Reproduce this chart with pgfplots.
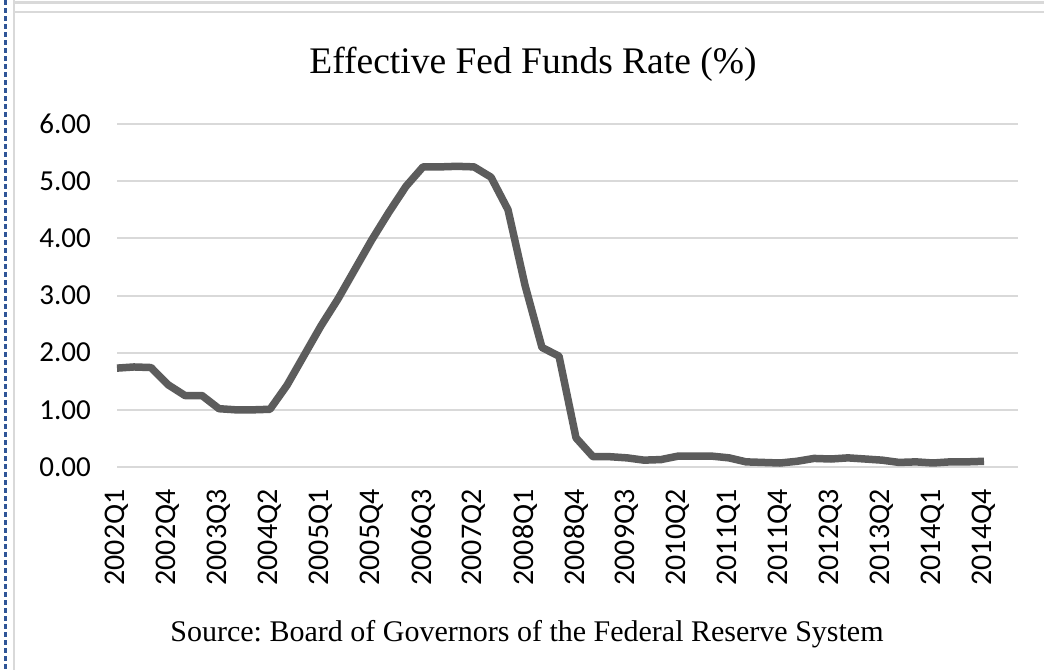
\documentclass[border=0pt]{standalone}
\usepackage{fontspec}
\setmainfont{Carlito}
\newfontfamily\timesfont{Liberation Serif}
\usepackage{pgfplots}
\usepackage{pgfplotstable}
\pgfplotsset{compat=1.18}
\definecolor{lineg}{RGB}{92,92,92}
\definecolor{gridg}{RGB}{217,217,217}
\definecolor{dashblue}{RGB}{47,85,151}
\pgfplotstableread{
i v
0 1.73
1 1.75
2 1.74
3 1.44
4 1.25
5 1.25
6 1.02
7 1.00
8 1.00
9 1.01
10 1.43
11 1.95
12 2.47
13 2.94
14 3.46
15 3.98
16 4.46
17 4.91
18 5.25
19 5.25
20 5.26
21 5.25
22 5.07
23 4.50
24 3.18
25 2.09
26 1.94
27 0.51
28 0.18
29 0.18
30 0.16
31 0.12
32 0.13
33 0.19
34 0.19
35 0.19
36 0.16
37 0.09
38 0.08
39 0.07
40 0.10
41 0.15
42 0.14
43 0.16
44 0.14
45 0.12
46 0.08
47 0.09
48 0.07
49 0.09
50 0.09
51 0.10
}\fedtable
\frenchspacing
\begin{document}
\begin{tikzpicture}[x=1pt,y=1pt]
\useasboundingbox (0,0) rectangle (1044,-670);
\fill[white] (0,0) rectangle (1044,-670);
\draw[dashblue, line width=2.5pt, dash pattern=on 5pt off 3pt] (5.5,0) -- (5.5,-670);
\draw[gridg, line width=2.5pt] (14,0) -- (14,-670);
\draw[gridg, line width=2.5pt] (14,-2.5) -- (1044,-2.5);
\draw[gridg, line width=2.5pt] (14,-12) -- (1044,-12);
\begin{axis}[
  at={(117pt,-467pt)}, anchor=south west,
  scale only axis, width=901pt, height=343pt,
  xmin=0, xmax=53, ymin=0, ymax=6,
  axis line style={draw=none},
  major tick length=0pt,
  ytick={0,1,...,6},
  ymajorgrids, grid style={gridg, line width=2pt},
  xtick={0,3,...,51},
  xticklabels={2002Q1,2002Q4,2003Q3,2004Q2,2005Q1,2005Q4,2006Q3,2007Q2,2008Q1,2008Q4,2009Q3,2010Q2,2011Q1,2011Q4,2012Q3,2013Q2,2014Q1,2014Q4},
  xticklabel style={rotate=90, anchor=east, inner sep=0pt, font=\fontsize{30}{36}\selectfont},
  yticklabel style={anchor=east, inner sep=0pt, font=\fontsize{29}{35}\selectfont},
  xticklabel shift=22pt, yticklabel shift=26pt,
  /pgf/number format/.cd, fixed, fixed zerofill, precision=2, assume math mode=true,
  /pgfplots/.cd,
  clip=false,
]
\addplot[lineg, line width=7.5pt, line join=round, mark=none] table[x=i,y=v]{\fedtable};
\end{axis}
\node[font=\timesfont\fontsize{37.5}{44}\selectfont, anchor=base, inner sep=0pt] at (533,-73) {Effective Fed Funds Rate (\%)};
\node[font=\timesfont\fontsize{30}{36}\selectfont, anchor=base, inner sep=0pt] at (527,-641) {Source: Board of Governors of the Federal Reserve System};
\end{tikzpicture}
\end{document}
